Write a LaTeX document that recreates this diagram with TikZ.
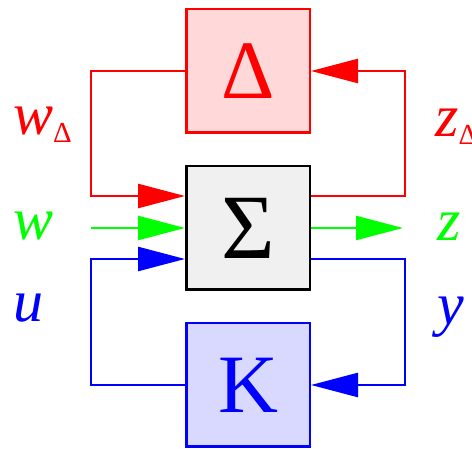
\documentclass[tikz,border=0pt]{standalone}
\usepackage{fontspec}
\setmainfont{Liberation Serif}
\usetikzlibrary{arrows.meta}
\definecolor{pr}{HTML}{FF0000}
\definecolor{pg}{HTML}{00FF00}
\definecolor{pb}{HTML}{0000FF}
\definecolor{dfill}{HTML}{FFD9D9}
\definecolor{kfill}{HTML}{D9D9FF}
\definecolor{sfill}{HTML}{F0F0F0}
\tikzset{
  blk/.style={draw, line width=2.5pt, minimum size=123.5pt, inner sep=0pt, font=\fontsize{83}{83}\selectfont},
  wire/.style={line width=2.5pt},
  tip/.style={-{Triangle[length=47pt,width=24pt]}},
  lbl/.style={anchor=base west, inner sep=0pt, font=\fontsize{60}{60}\selectfont\itshape},
}
\newcommand{\subD}{{\fontsize{29}{29}\selectfont\upshape\raisebox{-8pt}{Δ}}}
\begin{document}
\begin{tikzpicture}[x=1pt,y=-1pt]
\useasboundingbox (0,0) rectangle (472,449);
\node[blk, pr, fill=dfill] (D) at (248,71) {Δ};
\node[blk, black, fill=sfill, font=\fontsize{92}{92}\selectfont] (S) at (248,228) {Σ};
\node[blk, pb, fill=kfill] (K) at (248,385) {K};
\coordinate (LL) at (91,0);
\coordinate (RR) at (405,0);
\coordinate (Sin1) at ([yshift=32pt]S.west);
\coordinate (Sin2) at ([yshift=-31pt]S.west);
\coordinate (Sout1) at ([yshift=32pt]S.east);
\coordinate (Sout2) at ([yshift=-31pt]S.east);
\coordinate (win) at (91,228);
\coordinate (zout) at (403,228);
% red loop
\draw[wire, pr, tip] (D.west) -| (Sin1 -| LL) -- (Sin1);
\draw[wire, pr, tip] (Sout1) -| (D.east -| RR) -- (D.east);
% green
\draw[wire, pg, tip] (win) -- (S.west);
\draw[wire, pg, tip] (S.east) -- (zout);
% blue loop
\draw[wire, pb, tip] (Sout2) -| (K.east -| RR) -- (K.east);
\draw[wire, pb, tip] (K.west) -| (Sin2 -| LL) -- (Sin2);
% labels
\node[lbl, pr] (lwd) at (13,135) {w\subD};
\node[lbl, pg] (lw) at (13,240) {w};
\node[lbl, pb] (lu) at (13,322) {u};
\node[lbl, pr] (lzd) at (435,137) {z\subD};
\node[lbl, pg] (lz) at (437,241) {z};
\node[lbl, pb] (ly) at (437,325) {y};
\end{tikzpicture}
\end{document}
